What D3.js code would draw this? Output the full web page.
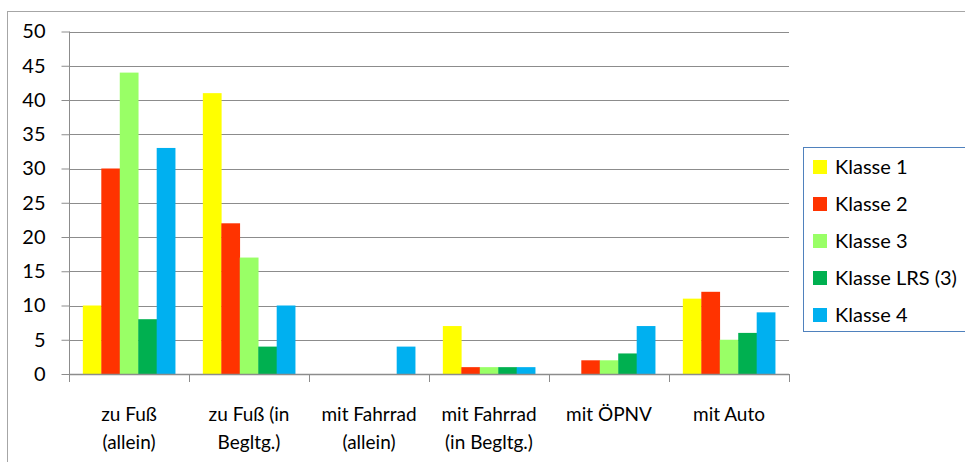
<!DOCTYPE html>
<html>
<head>
<meta charset="utf-8">
<style>
  body { margin: 0; background: #fff; }
  text { font-family: Lato, "Open Sans", sans-serif; fill: #000; }
</style>
</head>
<body>
<script src="https://cdn.jsdelivr.net/npm/d3@7"></script>
<script>
// data
var categories = [["zu Fuß", "(allein)"], ["zu Fuß (in", "Begltg.)"], ["mit Fahrrad", "(allein)"],
                  ["mit Fahrrad", "(in Begltg.)"], ["mit ÖPNV"], ["mit Auto"]];
var seriesNames = ["Klasse 1", "Klasse 2", "Klasse 3", "Klasse LRS (3)", "Klasse 4"];
var klasse1 = [10, 41, 0, 7, 0, 11];
var klasse2 = [30, 22, 0, 1, 2, 12];
var klasse3 = [44, 17, 0, 1, 2, 5];
var klasseLRS = [8, 4, 0, 1, 3, 6];
var klasse4 = [33, 10, 4, 1, 7, 9];
var yTicks = [0, 5, 10, 15, 20, 25, 30, 35, 40, 45, 50];
var colors = ["#FFFF00", "#FF3300", "#99FF66", "#00B050", "#00B0F0"];

var series = [klasse1, klasse2, klasse3, klasseLRS, klasse4];

var W = 965, H = 462;
var svg = d3.select("body").append("svg").attr("width", W).attr("height", H);

// outer frame
svg.append("rect")
  .attr("x", 7.5).attr("y", 11.5)
  .attr("width", W).attr("height", H)
  .attr("fill", "none").attr("stroke", "#a6a6a6");

var plotLeft = 69, plotRight = 789, plotTop = 31.5, plotBottom = 374;

var x = d3.scaleBand().domain(d3.range(categories.length)).range([plotLeft, plotRight]);
var y = d3.scaleLinear().domain([0, 50]).range([plotBottom, plotTop]);

// gridlines
svg.append("g").selectAll("line")
  .data(yTicks.filter(function(d) { return d > 0; }))
  .enter().append("line")
  .attr("x1", plotLeft).attr("x2", plotRight)
  .attr("y1", function(d) { return Math.round(y(d)) + 0.5; })
  .attr("y2", function(d) { return Math.round(y(d)) + 0.5; })
  .attr("stroke", "#8c8c8c").attr("stroke-width", 1);

// bars
var bw = x.bandwidth() / 6.5;
var groups = svg.append("g").selectAll("g")
  .data(series).enter().append("g")
  .attr("fill", function(d, i) { return colors[i]; });

groups.each(function(vals, si) {
  d3.select(this).selectAll("rect")
    .data(vals).enter().append("rect")
    .attr("x", function(d, ci) { return x(ci) + bw * 0.75 + si * bw; })
    .attr("width", bw + 0.3)
    .attr("y", function(d) { return y(d); })
    .attr("height", function(d) { return plotBottom - y(d); });
});

// y axis
var yAxis = svg.append("g")
  .attr("transform", "translate(" + (plotLeft + 0.5) + ",0)")
  .call(d3.axisLeft(y).tickValues(yTicks).tickSize(8).tickPadding(16));
yAxis.select(".domain").attr("stroke", "#8c8c8c").attr("d", "M0," + plotTop + "V" + plotBottom);
yAxis.selectAll(".tick line").attr("stroke", "#8c8c8c");
yAxis.selectAll(".tick text").style("font-size", "20px").style("font-family", "Lato, sans-serif").attr("fill", "#000");

// x axis
svg.append("line")
  .attr("x1", plotLeft).attr("x2", plotRight)
  .attr("y1", plotBottom + 0.5).attr("y2", plotBottom + 0.5)
  .attr("stroke", "#8c8c8c").attr("stroke-width", 1.5);
svg.append("g").selectAll("line")
  .data(d3.range(categories.length + 1))
  .enter().append("line")
  .attr("x1", function(d) { return plotLeft + d * x.bandwidth() + 0.5; })
  .attr("x2", function(d) { return plotLeft + d * x.bandwidth() + 0.5; })
  .attr("y1", plotBottom).attr("y2", plotBottom + 8)
  .attr("stroke", "#8c8c8c");

var labels = svg.append("g").selectAll("text")
  .data(categories).enter().append("text")
  .attr("text-anchor", "middle")
  .style("font-size", "19px")
  .attr("x", function(d, i) { return x(i) + x.bandwidth() / 2; })
  .attr("y", 421);
labels.selectAll("tspan")
  .data(function(d) { return d; }).enter().append("tspan")
  .attr("x", function() { return d3.select(this.parentNode).attr("x"); })
  .attr("dy", function(d, i) { return i === 0 ? 0 : 28; })
  .text(function(d) { return d; });

// legend
var legend = svg.append("g");
legend.append("rect")
  .attr("x", 803.5).attr("y", 147.5)
  .attr("width", 170).attr("height", 184)
  .attr("fill", "#fff").attr("stroke", "#4F81BD");
var items = legend.selectAll("g.item")
  .data(seriesNames).enter().append("g")
  .attr("class", "item")
  .attr("transform", function(d, i) { return "translate(813," + (167 + i * 37) + ")"; });
items.append("rect")
  .attr("x", 0).attr("y", -7).attr("width", 14).attr("height", 14)
  .attr("fill", function(d, i) { return colors[i]; });
items.append("text")
  .attr("x", 22).attr("y", 7)
  .style("font-size", "20px")
  .text(function(d) { return d; });
</script>
</body>
</html>
